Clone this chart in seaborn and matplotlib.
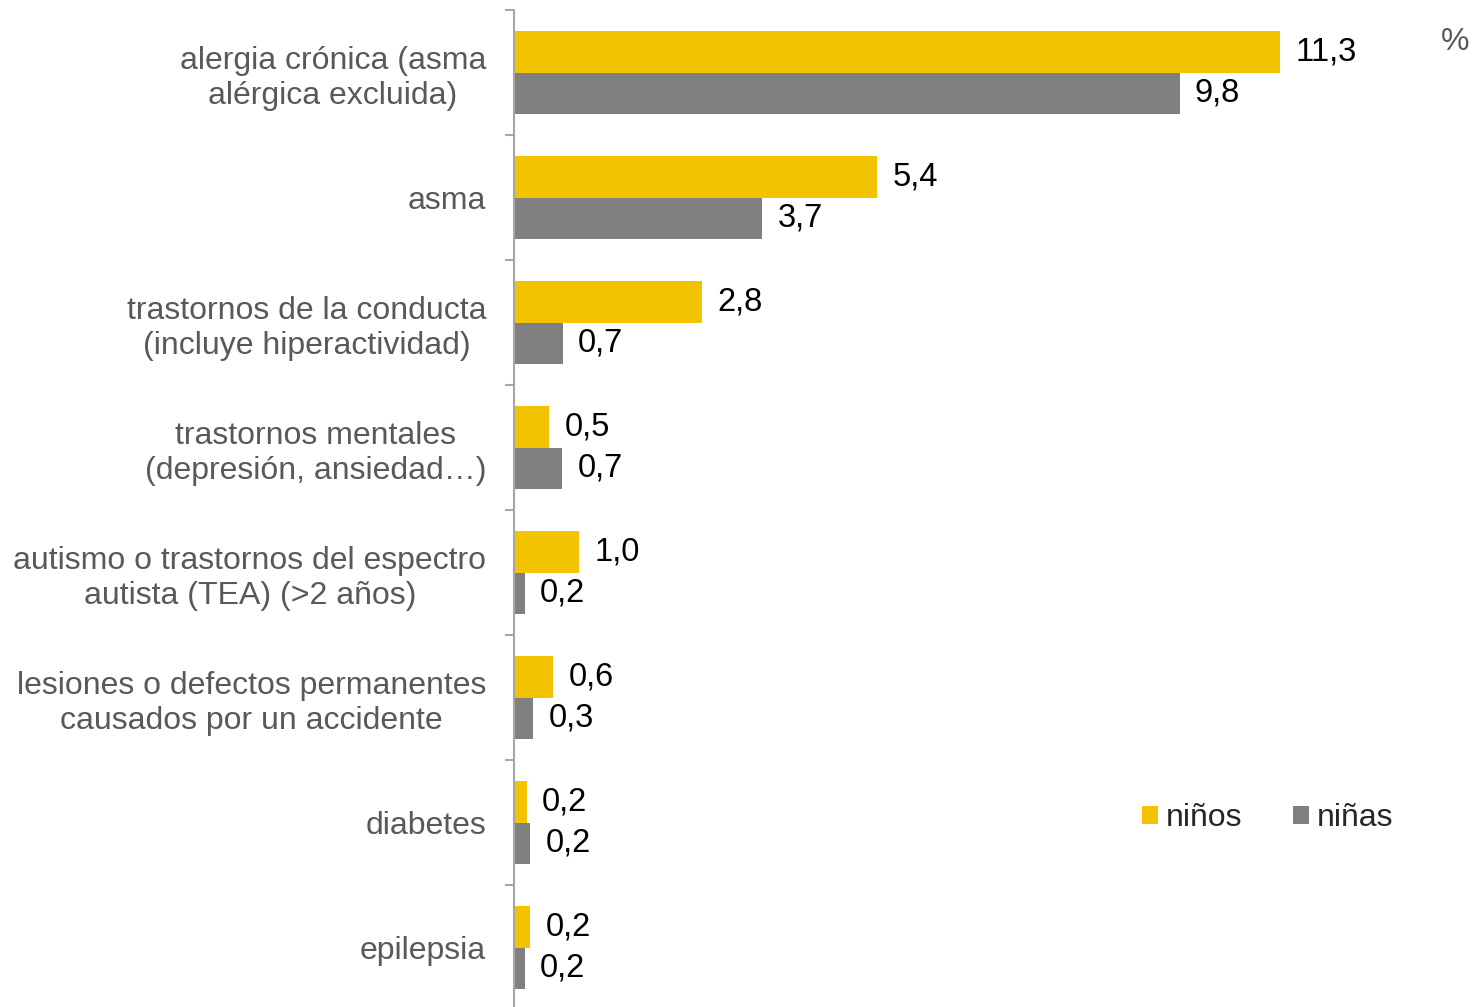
import seaborn as sns
import matplotlib.pyplot as plt
from matplotlib.patches import Patch
import pandas as pd

categorias = [
    "alergia crónica (asma\nalérgica excluida)",
    "asma",
    "trastornos de la conducta\n(incluye hiperactividad)",
    "trastornos mentales\n(depresión, ansiedad…)",
    "autismo o trastornos del espectro\nautista (TEA) (>2 años)",
    "lesiones o defectos permanentes\ncausados por un accidente",
    "diabetes",
    "epilepsia",
]
ninos = [11.3, 5.36, 2.77, 0.52, 0.96, 0.58, 0.19, 0.24]
ninas = [9.82, 3.66, 0.72, 0.71, 0.16, 0.28, 0.24, 0.16]
grupos = ["niños", "niñas"]
colores = ["#F4C300", "#808080"]

df = pd.DataFrame({
    "cat": categorias * 2,
    "valor": ninos + ninas,
    "grupo": [grupos[0]] * len(ninos) + [grupos[1]] * len(ninas),
})

sns.set_style("white")
plt.rcParams["font.family"] = ["Liberation Sans", "DejaVu Sans"]

fig = plt.figure(figsize=(14.72, 10.07), dpi=100)
ax = fig.add_axes([514 / 1472, -3 / 1007, 949 / 1472, 1000 / 1007])

sns.barplot(data=df, y="cat", x="valor", hue="grupo", palette=colores,
            orient="h", width=0.664, saturation=1, linewidth=0, ax=ax, legend=False)

for cont in ax.containers:
    etiquetas = [f"{b.get_width():.1f}".replace(".", ",") for b in cont]
    ax.bar_label(cont, labels=etiquetas, padding=11, fontsize=23.5, color="black")

ax.set_xlim(0, 14)
ax.set_ylim(len(categorias) - 0.5, -0.5)
ax.set_xlabel("")
ax.set_ylabel("")
ax.set_xticks([])
for s in ["top", "right", "bottom"]:
    ax.spines[s].set_visible(False)
ax.spines["left"].set_color("#A6A6A6")
ax.spines["left"].set_linewidth(1.5)

ax.tick_params(axis="y", which="major", length=0, pad=20, labelsize=23, labelcolor="#595959")
for t in ax.get_yticklabels():
    t.set_multialignment("center")
ax.set_yticks([i - 0.5 for i in range(len(categorias) + 1)], minor=True)
ax.tick_params(axis="y", which="minor", left=True, length=6.5, width=1.5, color="#A6A6A6")

fig.text(1455 / 1472, 1 - 42 / 1007, "%", fontsize=23, color="#595959", ha="center", va="center")

handles = [Patch(facecolor=c, edgecolor="none") for c in colores]
fig.legend(handles, grupos, loc="center left", bbox_to_anchor=(1113 / 1472, 1 - 818 / 1007),
           ncol=2, frameon=False, fontsize=23, handlelength=0.5, handleheight=0.5,
           handletextpad=0.25, columnspacing=1.6)

fig.savefig("out.png", dpi=100)
